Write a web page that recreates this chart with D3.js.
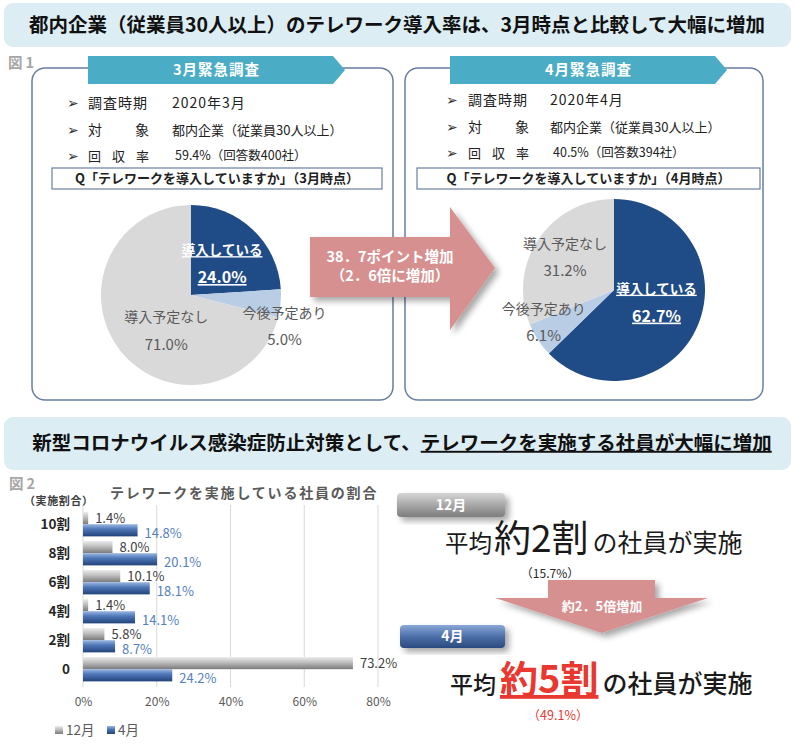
<!DOCTYPE html>
<html>
<head>
<meta charset="utf-8">
<script src="https://cdn.jsdelivr.net/npm/d3@7"></script>
<style>
  body { margin: 0; background: #fff; }
  svg { display: block; font-family: "Noto Sans CJK JP", "Noto Sans", sans-serif; }
</style>
</head>
<body>
<script>
var w = 795,
    h = 748;

// ---- data ----
var title1 = '都内企業（従業員30人以上）のテレワーク導入率は、3月時点と比較して大幅に増加';
var title2a = '新型コロナウイルス感染症防止対策として、';
var title2b = 'テレワークを実施する社員が大幅に増加';
var surveyNames = ['3月緊急調査', '4月緊急調査'];
var surveyPeriods = ['2020年3月', '2020年4月'];
var surveyTargets = ['都内企業（従業員30人以上）', '都内企業（従業員30人以上）'];
var surveyRates = ['59.4%（回答数400社）', '40.5%（回答数394社）'];
var questions = ['Q「テレワークを導入していますか」（3月時点）', 'Q「テレワークを導入していますか」（4月時点）'];
var pieCategories = ['導入している', '今後予定あり', '導入予定なし'];
var pieMarch = [24.0, 5.0, 71.0];
var pieApril = [62.7, 6.1, 31.2];
var increaseNote = ['38．7ポイント増加', '（2．6倍に増加）'];

var barTitle = 'テレワークを実施している社員の割合';
var barCategories = ['10割', '8割', '6割', '4割', '2割', '0'];
var decValues = [1.4, 8.0, 10.1, 1.4, 5.8, 73.2];
var aprValues = [14.8, 20.1, 18.1, 14.1, 8.7, 24.2];
var seriesNames = ['12月', '4月'];
var xTicks = [0, 20, 40, 60, 80];
var avgDec = 15.7,
    avgApr = 49.1,
    avgDecWari = 2,
    avgAprWari = 5,
    growthNote = '約2．5倍増加';

var svg = d3.select('body')
  .append('svg')
  .attr('width', w)
  .attr('height', h);

var defs = svg.append('defs');

function vGrad(id, stops) {
  var g = defs.append('linearGradient')
    .attr('id', id)
    .attr('x1', 0).attr('y1', 0).attr('x2', 0).attr('y2', 1);
  stops.forEach(function(s) {
    g.append('stop').attr('offset', s[0]).attr('stop-color', s[1]);
  });
}
vGrad('gDec', [[0, '#ececec'], [0.45, '#bdbdbd'], [1, '#7a7a7a']]);
vGrad('gApr', [[0, '#9bb7e3'], [0.4, '#4f78b8'], [1, '#22437a']]);
vGrad('badgeDec', [[0, '#d6d6d6'], [0.5, '#a8a8a8'], [1, '#7d7d7d']]);
vGrad('badgeApr', [[0, '#8aa8d8'], [0.5, '#4c6fa8'], [1, '#2a4a7e']]);

var shadow = defs.append('filter').attr('id', 'shadow')
  .attr('x', '-20%').attr('y', '-20%').attr('width', '150%').attr('height', '150%');
shadow.append('feDropShadow')
  .attr('dx', 4).attr('dy', 4).attr('stdDeviation', 3)
  .attr('flood-color', '#000').attr('flood-opacity', 0.35);

//header bands
function header(y0, y1) {
  svg.append('rect')
    .attr('x', 4).attr('y', y0)
    .attr('width', 787).attr('height', y1 - y0)
    .attr('rx', 9)
    .attr('fill', '#dcedf4');
}
header(3, 47);
header(417, 470);

svg.append('text')
  .attr('x', 397).attr('y', 25).attr('dy', '0.35em')
  .attr('text-anchor', 'middle')
  .attr('font-size', 19.5).attr('font-weight', 'bold').attr('fill', '#111')
  .text(title1);

var t2 = svg.append('text')
  .attr('x', 402).attr('y', 443).attr('dy', '0.35em')
  .attr('text-anchor', 'middle')
  .attr('font-size', 19.5).attr('font-weight', 'bold').attr('fill', '#111');
t2.append('tspan').text(title2a);
t2.append('tspan').style('text-decoration', 'underline').text(title2b);

// 図 labels
svg.append('text').attr('x', 8).attr('y', 63).attr('dy', '0.35em')
  .attr('font-size', 14.5).attr('font-weight', 'bold').attr('fill', '#a6a6a6')
  .attr('letter-spacing', 3).text('図1');
svg.append('text').attr('x', 9).attr('y', 484).attr('dy', '0.35em')
  .attr('font-size', 14.5).attr('font-weight', 'bold').attr('fill', '#a6a6a6')
  .attr('letter-spacing', 3).text('図2');

// ---- survey boxes ----
var boxes = [
  {x0: 32, x1: 393, bx0: 88, bx1: 333, bullet: 67, label: 88, value: 172, rows: [103, 130, 156], q0: 52, q1: 382},
  {x0: 405, x1: 763, bx0: 450, bx1: 715, bullet: 446, label: 468, value: 550, rows: [100, 127, 153], q0: 417, q1: 760}
];

boxes.forEach(function(b, i) {
  var g = svg.append('g');
  g.append('rect')
    .attr('x', b.x0).attr('y', 68)
    .attr('width', b.x1 - b.x0).attr('height', 332)
    .attr('rx', 13)
    .attr('fill', '#fff').attr('stroke', '#6a7ea0').attr('stroke-width', 1.5);

  g.append('path')
    .attr('d', 'M' + b.bx0 + ',56H' + b.bx1 + 'L' + (b.bx1 + 12) + ',70L' + b.bx1 + ',84H' + b.bx0 + 'Z')
    .attr('fill', '#4bacc6');
  g.append('text')
    .attr('x', (b.bx0 + b.bx1) / 2 + 6).attr('y', 70).attr('dy', '0.35em')
    .attr('text-anchor', 'middle')
    .attr('font-size', 14.5).attr('font-weight', 'bold').attr('fill', '#fff')
    .attr('letter-spacing', 1)
    .text(surveyNames[i]);

  b.rows.forEach(function(ry) {
    g.append('text').attr('x', b.bullet).attr('y', ry).attr('dy', '0.35em')
      .attr('font-family', 'DejaVu Sans').attr('font-size', 14).attr('fill', '#333')
      .text('➢');
  });

  var txt = function(x, y, s, size, ls) {
    return g.append('text').attr('x', x).attr('y', y).attr('dy', '0.35em')
      .attr('font-size', size).attr('fill', '#222')
      .attr('letter-spacing', ls || 0)
      .text(s);
  };
  txt(b.label, b.rows[0], '調査時期', 14, 1);
  txt(b.value, b.rows[0], surveyPeriods[i], 14, 1);
  txt(b.label, b.rows[1], '対', 14);
  txt(b.label + 47, b.rows[1], '象', 14);
  txt(b.value, b.rows[1], surveyTargets[i], 13);
  txt(b.label, b.rows[2], '回収率', 13, 11);
  txt(b.value + 3, b.rows[2], surveyRates[i], 12.5);

  g.append('rect')
    .attr('x', b.q0).attr('y', 168)
    .attr('width', b.q1 - b.q0).attr('height', 21)
    .attr('fill', '#fff').attr('stroke', '#6a7ea0').attr('stroke-width', 1.2);
  g.append('text')
    .attr('x', (b.q0 + b.q1) / 2).attr('y', 178.5).attr('dy', '0.35em')
    .attr('text-anchor', 'middle')
    .attr('font-size', 13).attr('font-weight', 'bold').attr('fill', '#222')
    .text(questions[i]);
});

// ---- pies ----
var pieColors = d3.scaleOrdinal().domain(pieCategories).range(['#1f4b86', '#b9cde5', '#d9d9d9']);
var pie = d3.pie().sort(null);

function drawPie(cx, cy, r, values, labelR, nudge) {
  var g = svg.append('g').attr('transform', 'translate(' + cx + ',' + cy + ')');
  var arcs = pie(values);
  g.selectAll('path')
    .data(arcs)
    .enter()
    .append('path')
    .attr('d', d3.arc().innerRadius(0).outerRadius(r))
    .attr('fill', function(d, i) { return pieColors(pieCategories[i]); });

  arcs.forEach(function(d, i) {
    var c = d3.arc().innerRadius(labelR[i]).outerRadius(labelR[i]).centroid(d);
    var lx = c[0] + nudge[i][0],
        ly = c[1] + nudge[i][1],
        dark = i === 0;
    var lbl = g.append('g').attr('transform', 'translate(' + lx + ',' + ly + ')')
      .attr('text-anchor', 'middle')
      .attr('fill', dark ? '#fff' : '#595959')
      .attr('font-weight', dark ? 'bold' : 'normal')
      .style('text-decoration', dark ? 'underline' : 'none');
    lbl.append('text').attr('y', -13.5).attr('dy', '0.35em')
      .attr('font-size', dark ? 13.5 : 14)
      .text(pieCategories[i]);
    lbl.append('text').attr('y', 13.5).attr('dy', '0.35em')
      .attr('font-size', dark ? 16 : 15)
      .text(values[i].toFixed(1) + '%');
  });
}
drawPie(191, 295, 90, pieMarch, [44, 98, 44], [[1, 1], [-4, 22], [10, 9]]);
drawPie(614, 290, 91, pieApril, [45, 77, 59], [[1, -5], [-6, -10], [0, 0]]);

// middle arrow
var arrowG = svg.append('g');
arrowG.append('path')
  .attr('d', 'M310,237H450V207L495,268L450,330V297H310Z')
  .attr('fill', '#d6908f')
  .attr('filter', 'url(#shadow)');
increaseNote.forEach(function(s, i) {
  arrowG.append('text')
    .attr('x', 390).attr('y', 257 + i * 19).attr('dy', '0.35em')
    .attr('text-anchor', 'middle')
    .attr('font-size', 14.5).attr('font-weight', 'bold').attr('fill', '#fff')
    .text(s);
});

// ---- bar chart ----
var x = d3.scaleLinear().domain([0, 80]).range([83, 378]);
var y = d3.scaleBand().domain(barCategories).range([509.7, 683.7]).paddingInner(0.16).paddingOuter(0.08);
var bh = y.bandwidth() / 2;

svg.append('text')
  .attr('x', 110).attr('y', 493).attr('dy', '0.35em')
  .attr('font-size', 14).attr('font-weight', 'bold').attr('fill', '#595959')
  .attr('letter-spacing', 1.8)
  .text(barTitle);
svg.append('text')
  .attr('x', 24).attr('y', 501).attr('dy', '0.35em')
  .attr('font-size', 11).attr('font-weight', 'bold').attr('fill', '#404040')
  .attr('letter-spacing', 0.6)
  .text('（実施割合）');

svg.append('g')
  .selectAll('line')
  .data(xTicks)
  .enter()
  .append('line')
  .attr('x1', function(d) { return x(d); })
  .attr('x2', function(d) { return x(d); })
  .attr('y1', 505).attr('y2', 687)
  .attr('stroke', '#d9d9d9').attr('stroke-width', 1);

var xAxis = svg.append('g')
  .attr('transform', 'translate(0,694)')
  .call(d3.axisBottom(x).tickValues(xTicks).tickSize(0).tickFormat(function(d) { return d + '%'; }));
xAxis.select('.domain').remove();
xAxis.selectAll('text')
  .attr('font-family', '"Noto Sans CJK JP", sans-serif')
  .attr('font-size', 12).attr('fill', '#595959');

var yAxis = svg.append('g')
  .attr('transform', 'translate(70,0)')
  .call(d3.axisLeft(y).tickSize(0).tickPadding(0));
yAxis.select('.domain').remove();
yAxis.selectAll('text')
  .attr('font-family', '"Noto Sans CJK JP", sans-serif')
  .attr('font-size', 13.5).attr('font-weight', 'bold').attr('fill', '#262626');

var rows = svg.selectAll('g.row')
  .data(barCategories)
  .enter()
  .append('g')
  .classed('row', true)
  .attr('transform', function(d) { return 'translate(0,' + y(d) + ')'; });

rows.append('rect')
  .attr('x', x(0)).attr('y', 0)
  .attr('width', function(d, i) { return x(decValues[i]) - x(0); })
  .attr('height', bh)
  .attr('fill', 'url(#gDec)');
rows.append('rect')
  .attr('x', x(0)).attr('y', bh)
  .attr('width', function(d, i) { return x(aprValues[i]) - x(0); })
  .attr('height', bh)
  .attr('fill', 'url(#gApr)');
rows.append('text')
  .attr('x', function(d, i) { return x(decValues[i]) + 7; })
  .attr('y', bh / 2 + 0.5).attr('dy', '0.35em')
  .attr('font-size', 13).attr('fill', '#404040')
  .text(function(d, i) { return decValues[i].toFixed(1) + '%'; });
rows.append('text')
  .attr('x', function(d, i) { return x(aprValues[i]) + 7; })
  .attr('y', bh * 1.5 + 3).attr('dy', '0.35em')
  .attr('font-size', 13).attr('fill', '#5580c0')
  .text(function(d, i) { return aprValues[i].toFixed(1) + '%'; });

// legend
var legend = svg.append('g').attr('transform', 'translate(55,730)');
seriesNames.forEach(function(s, i) {
  var lg = legend.append('g').attr('transform', 'translate(' + (i * 52) + ',0)');
  lg.append('rect').attr('x', 0).attr('y', -4).attr('width', 8).attr('height', 8)
    .attr('fill', i === 0 ? 'url(#gDec)' : 'url(#gApr)');
  lg.append('text').attr('x', 11).attr('y', 0).attr('dy', '0.35em')
    .attr('font-size', 13.5).attr('fill', '#595959').text(s);
});

// ---- averages ----
function badge(x0, y0, bw, bhh, fill, label) {
  svg.append('rect')
    .attr('x', x0).attr('y', y0).attr('width', bw).attr('height', bhh).attr('rx', 4)
    .attr('fill', fill)
    .attr('filter', 'url(#shadow)');
  svg.append('text')
    .attr('x', x0 + bw / 2).attr('y', y0 + bhh / 2).attr('dy', '0.35em')
    .attr('text-anchor', 'middle')
    .attr('font-size', 14).attr('font-weight', 'bold').attr('fill', '#fff')
    .text(label);
}
badge(397, 493, 108, 24, 'url(#badgeDec)', seriesNames[0]);
badge(400, 625, 105, 23, 'url(#badgeApr)', seriesNames[1]);

var avg1 = svg.append('text').attr('x', 445).attr('y', 552).attr('fill', '#1a1a1a');
avg1.append('tspan').attr('font-size', 23.5).text('平均');
avg1.append('tspan').attr('font-size', 37).attr('dx', 2).text('約' + avgDecWari + '割');
avg1.append('tspan').attr('font-size', 25).attr('dx', 4).text('の社員が実施');
svg.append('text').attr('x', 550).attr('y', 574).attr('dy', '0.35em')
  .attr('text-anchor', 'middle').attr('font-size', 12).attr('fill', '#262626')
  .text('（' + avgDec.toFixed(1) + '%）');

var downG = svg.append('g');
downG.append('path')
  .attr('d', 'M548,580H655V598H708L602,633L495,598H548Z')
  .attr('fill', '#d6908f')
  .attr('filter', 'url(#shadow)');
downG.append('text')
  .attr('x', 602).attr('y', 606).attr('dy', '0.35em')
  .attr('text-anchor', 'middle')
  .attr('font-size', 13).attr('font-weight', 'bold').attr('fill', '#fff')
  .text(growthNote);

var avg2 = svg.append('text').attr('x', 450).attr('y', 693).attr('fill', '#1a1a1a').attr('font-weight', 500);
avg2.append('tspan').attr('font-size', 23).text('平均');
avg2.append('tspan').attr('font-size', 38).attr('dx', 4).attr('font-weight', 'bold').attr('fill', '#e8382f')
  .style('text-decoration', 'underline')
  .text('約' + avgAprWari + '割');
avg2.append('tspan').attr('font-size', 25).attr('dx', 4).text('の社員が実施');
svg.append('text').attr('x', 558).attr('y', 716).attr('dy', '0.35em')
  .attr('text-anchor', 'middle').attr('font-size', 12.5).attr('fill', '#e8382f')
  .text('（' + avgApr.toFixed(1) + '%）');
</script>
</body>
</html>
